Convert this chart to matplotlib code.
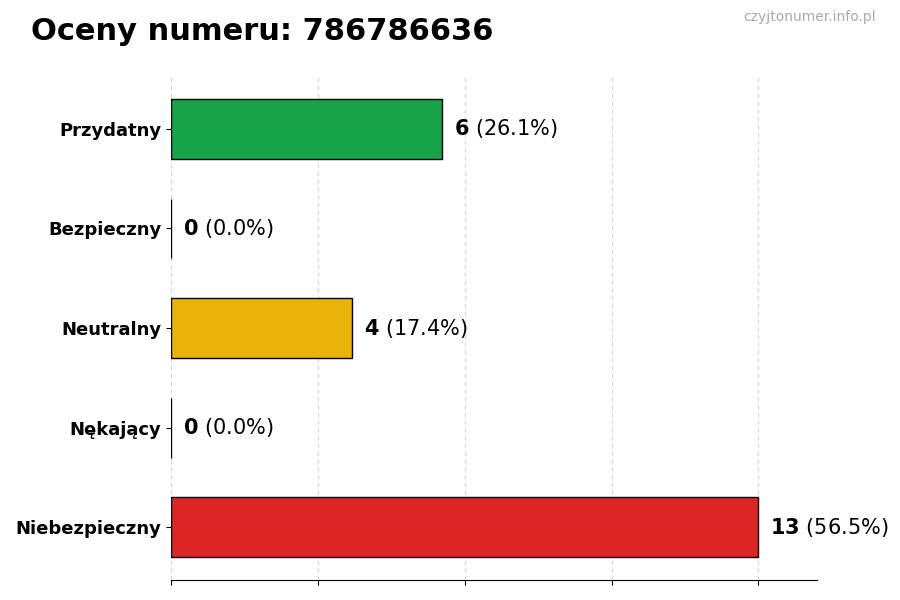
import matplotlib
matplotlib.use("Agg")
import matplotlib.pyplot as plt

# dane
categories = ["Przydatny", "Bezpieczny", "Neutralny", "Nękający", "Niebezpieczny"]
counts = [6, 0, 4, 0, 13]
colors = ["#16a34a", "#2563eb", "#eab308", "#f97316", "#dc2626"]
phone = "786786636"

total = sum(counts)
max_val = max(counts)

fig = plt.figure(figsize=(9, 6), dpi=100)
ax = fig.add_axes([0.19, 0.0333, 0.718, 0.84])

ypos = list(range(len(categories)))[::-1]
ax.barh(ypos, counts, height=0.6, color=colors, edgecolor="black", linewidth=1)

for y, c in zip(ypos, counts):
    pct = c / total * 100
    ax.text(c + max_val * 0.02, y, r"$\mathbf{%d}$ (%.1f%%)" % (c, pct),
            va="center", ha="left", fontsize=15)

ax.set_yticks(ypos)
ax.set_yticklabels(categories, fontsize=13, fontweight="bold")
ax.set_xlim(0, max_val * 1.1)
ax.set_xticks([max_val * i / 4 for i in range(5)])
ax.set_xticklabels([])
ax.grid(axis="x", linestyle=(0, (4, 3)), linewidth=0.8, color="#cccccc", alpha=0.8)
ax.set_axisbelow(True)
for s in ["top", "right", "left"]:
    ax.spines[s].set_visible(False)

fig.text(0.034, 0.947, f"Oceny numeru: {phone}", fontsize=22, fontweight="bold",
         ha="left", va="center")
fig.text(0.973, 0.971, "czyjtonumer.info.pl", fontsize=10, color="#aaaaaa",
         ha="right", va="center")

fig.savefig("out.png", dpi=100)
